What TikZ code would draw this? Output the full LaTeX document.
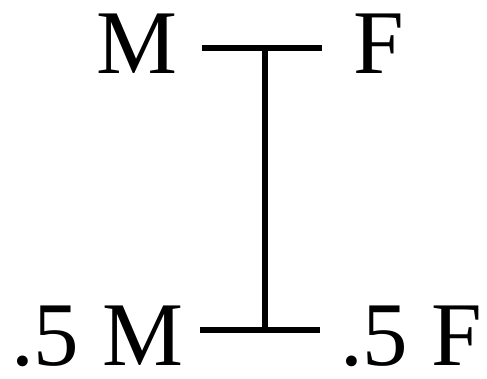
\documentclass[tikz,border=0pt]{standalone}
\usepackage{fontspec}
\setmainfont{Liberation Serif}
\usetikzlibrary{positioning}

\begin{document}
\begin{tikzpicture}[
        x=1pt, y=1pt,
        font=\fontsize{91}{100}\selectfont,
        sex/.style={inner sep=0pt, outer sep=0pt},
        bar/.style={draw=black, line width=5.5pt}
    ]
        \useasboundingbox (0,0) rectangle (487,378);

        \node[sex, anchor=base east] (male) at (177,304) {M};
        \node[sex, anchor=base west] (female) at (353,304) {F};
        \node[sex, anchor=base east] (halfmale) at (183,13) {.5 M};
        \node[sex, anchor=base west] (halffemale) at (340,13) {.5 F};

        \coordinate (topleft) at (202,330);
        \coordinate (topright) at (322,330);
        \coordinate (topmid) at (265,330);
        \coordinate (botleft) at (200,48);
        \coordinate (botright) at (320,48);
        \coordinate (botmid) at (265,48);

        \draw[bar] (topleft) -- (topright);
        \draw[bar] (botleft) -- (botright);
        \draw[bar] (topmid) -- (botmid);
    \end{tikzpicture}
\end{document}
